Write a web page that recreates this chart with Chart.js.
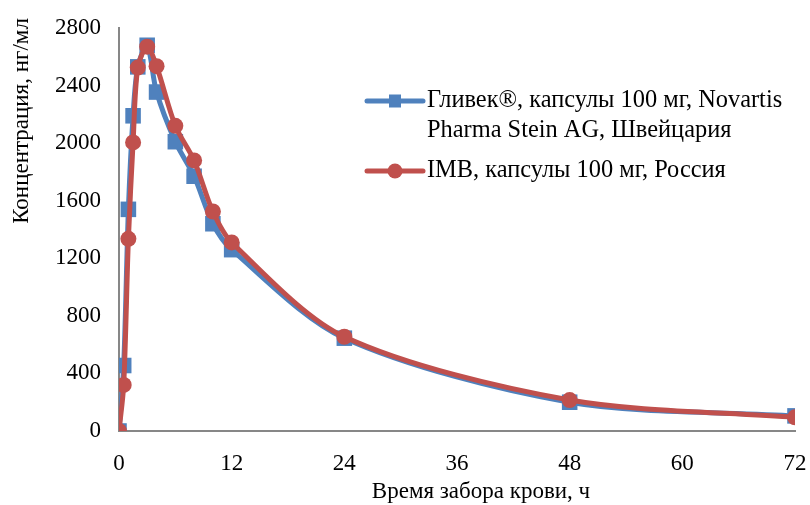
<!DOCTYPE html>
<html>
<head>
<meta charset="utf-8">
<script src="https://cdn.jsdelivr.net/npm/chart.js@4.4.1/dist/chart.umd.min.js"></script>
<style>
html,body{margin:0;padding:0;background:#fff;}
#wrap{width:810px;height:505px;position:relative;}
</style>
</head>
<body>
<div id="wrap"><canvas id="c" width="810" height="505"></canvas></div>
<script>
const timeHours = [0, 0.5, 1, 1.5, 2, 3, 4, 6, 8, 10, 12, 24, 48, 72];
const gleevecValues = [0, 455, 1540, 2190, 2530, 2680, 2355, 2010, 1770, 1440, 1260, 645, 200, 105];
const imbValues = [0, 320, 1335, 2005, 2525, 2670, 2535, 2120, 1880, 1525, 1310, 655, 215, 95];
const xTicks = [0, 12, 24, 36, 48, 60, 72];
const yTicks = [0, 400, 800, 1200, 1600, 2000, 2400, 2800];
const seriesLabels = [
  ["Гливек®, капсулы 100 мг, Novartis", "Pharma Stein AG, Швейцария"],
  ["IMB, капсулы 100 мг, Россия"]
];
const xTitle = "Время забора крови, ч";
const yTitle = "Концентрация, нг/мл";

const BLUE = "#4F81BD";
const RED = "#C0504D";
const FONT = "'Liberation Serif', 'Times New Roman', serif";

function toPoints(xs, ys) { return xs.map((x, i) => ({x: x, y: ys[i]})); }

const labelsPlugin = {
  id: 'customLabels',
  afterDraw(chart) {
    const ctx = chart.ctx;
    ctx.save();
    ctx.fillStyle = "#000";
    ctx.font = "23px " + FONT;
    ctx.textAlign = "center";
    ctx.textBaseline = "middle";
    // x axis title
    ctx.fillText(xTitle, 481, 492);
    // y axis title (placed toward the top, as in the reference)
    ctx.save();
    ctx.translate(22, 121);
    ctx.rotate(-Math.PI / 2);
    ctx.fillText(yTitle, 0, 0);
    ctx.restore();

    ctx.textAlign = "left";
    ctx.font = "24.4px " + FONT;
    const items = [
      {color: BLUE, style: 'rect', lines: seriesLabels[0], y: 101},
      {color: RED, style: 'circle', lines: seriesLabels[1], y: 171}
    ];
    const x0 = 367, x1 = 423, tx = 427, lh = 30;
    items.forEach(it => {
      ctx.strokeStyle = it.color;
      ctx.lineWidth = 5;
      ctx.lineCap = 'round';
      ctx.beginPath();
      ctx.moveTo(x0, it.y);
      ctx.lineTo(x1, it.y);
      ctx.stroke();
      ctx.fillStyle = it.color;
      const mx = (x0 + x1) / 2;
      if (it.style === 'rect') {
        ctx.fillRect(mx - 6, it.y - 6.5, 12, 13);
      } else {
        ctx.beginPath();
        ctx.arc(mx, it.y, 7.5, 0, Math.PI * 2);
        ctx.fill();
      }
      ctx.fillStyle = "#000";
      it.lines.forEach((t, i) => ctx.fillText(t, tx, it.y + i * lh));
    });
    ctx.restore();
  }
};

new Chart(document.getElementById('c'), {
  type: 'line',
  data: {
    datasets: [
      {
        label: seriesLabels[0].join(' '),
        data: toPoints(timeHours, gleevecValues),
        borderColor: BLUE,
        backgroundColor: BLUE,
        borderWidth: 5,
        pointStyle: 'rect',
        pointRadius: 11,
        pointBorderWidth: 0,
        tension: 0.3,
        order: 2
      },
      {
        label: seriesLabels[1].join(' '),
        data: toPoints(timeHours, imbValues),
        borderColor: RED,
        backgroundColor: RED,
        borderWidth: 5,
        pointStyle: 'circle',
        pointRadius: 8,
        pointBorderWidth: 0,
        tension: 0.3,
        order: 1
      }
    ]
  },
  options: {
    responsive: false,
    animation: false,
    devicePixelRatio: 1,
    layout: {padding: {top: 28, right: 15, left: 0, bottom: 0}},
    plugins: {legend: {display: false}, tooltip: {enabled: false}},
    scales: {
      x: {
        type: 'linear',
        min: 0, max: 72,
        afterBuildTicks(s) { s.ticks = xTicks.map(v => ({value: v})); },
        afterFit(s) { s.height = 74; s.paddingLeft = 0; s.paddingRight = 0; },
        grid: {color: 'transparent', drawTicks: false},
        border: {color: '#878787', width: 2},
        ticks: {color: '#000', font: {family: FONT, size: 23}, padding: 19, maxRotation: 0,
                callback: v => String(v)},
        title: {display: false}
      },
      y: {
        type: 'linear',
        min: 0, max: 2800,
        afterBuildTicks(s) { s.ticks = yTicks.map(v => ({value: v})); },
        afterFit(s) { s.width = 119; s.paddingTop = 0; s.paddingBottom = 0; },
        grid: {color: 'transparent', drawTicks: false},
        border: {color: '#878787', width: 2},
        ticks: {color: '#000', font: {family: FONT, size: 23}, padding: 18,
                callback: v => String(v)},
        title: {display: false}
      }
    }
  },
  plugins: [labelsPlugin]
});
</script>
</body>
</html>
